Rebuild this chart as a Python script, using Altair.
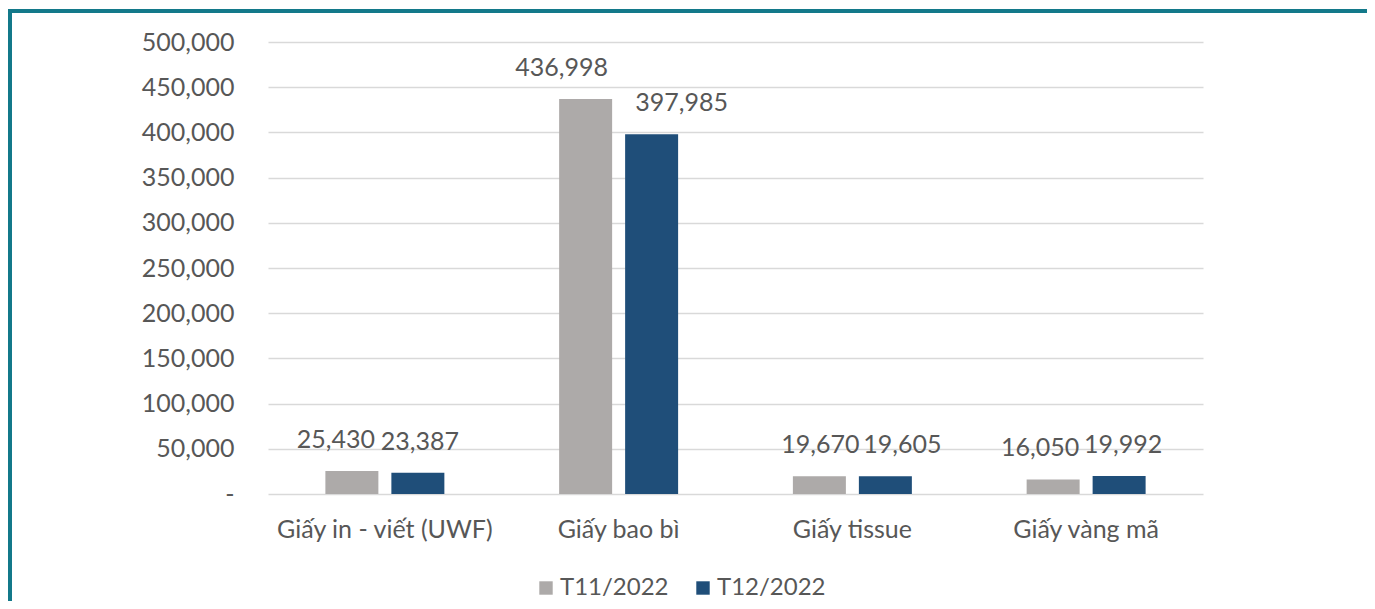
import altair as alt
import pandas as pd

categories = ["Giấy in - viết (UWF)", "Giấy bao bì", "Giấy tissue", "Giấy vàng mã"]
series = ["T11/2022", "T12/2022"]
t11_values = [25430, 436998, 19670, 16050]
t12_values = [23387, 397985, 19605, 19992]
y_ticks = [0, 50000, 100000, 150000, 200000, 250000, 300000, 350000, 400000, 450000, 500000]

# label horizontal nudges (style), in the same order as categories
t11_label_dx = [-16, -24, 1, -13]
t12_label_dx = [2, 30, 17, 4]

rows = []
for i, c in enumerate(categories):
    rows.append({"cat": c, "series": series[0], "value": t11_values[i], "dx": t11_label_dx[i]})
    rows.append({"cat": c, "series": series[1], "value": t12_values[i], "dx": t12_label_dx[i]})
df = pd.DataFrame(rows)

FONT = "Lato"
TXT = "#575757"
FS = 25
colors = ["#ADAAA9", "#1F4E79"]

x_enc = alt.X("cat:N", sort=categories, title=None,
              scale=alt.Scale(paddingInner=0.491, paddingOuter=0.2455),
              axis=alt.Axis(labelFont=FONT, labelFontSize=FS, labelColor=TXT, labelLimit=400,
                            labelPadding=23, ticks=False, domain=False, labelAngle=0))
xo_enc = alt.XOffset("series:N", sort=series,
                     scale=alt.Scale(paddingInner=0.197, paddingOuter=0))
y_enc = alt.Y("value:Q", title=None,
              scale=alt.Scale(domain=[0, 500000], nice=False),
              axis=alt.Axis(values=y_ticks, labelFont=FONT, labelFontSize=FS, labelColor=TXT,
                            labelExpr="datum.value == 0 ? '-' : format(datum.value, ',')",
                            ticks=False, domain=False, labelPadding=34,
                            gridColor="#D9D9D9", gridWidth=1.5))

base = alt.Chart(df)

bars = base.mark_bar().encode(
    x=x_enc, xOffset=xo_enc, y=y_enc,
    color=alt.Color("series:N", sort=series, title=None,
                    scale=alt.Scale(domain=series, range=colors),
                    legend=alt.Legend(orient="none", legendX=266, legendY=534,
                                      direction="horizontal", symbolType="square",
                                      symbolSize=180, symbolStrokeWidth=0,
                                      labelFont=FONT, labelFontSize=24, labelColor=TXT,
                                      labelOffset=2, columnPadding=22, padding=0)),
)

layers = [bars]
for i, r in df.iterrows():
    layers.append(
        alt.Chart(df.iloc[[i]]).mark_text(
            font=FONT, fontSize=FS, color=TXT, baseline="middle", dy=-31, dx=float(r["dx"])
        ).encode(
            x=alt.X("cat:N", sort=categories),
            xOffset=alt.XOffset("series:N", sort=series),
            y="value:Q",
            text=alt.Text("value:Q", format=","),
        )
    )

frame = alt.Chart(alt.Data(values=[{}])).mark_rect(
    filled=False, stroke="#13798A", strokeWidth=4
).encode(
    x=alt.value(-258), x2=alt.value(1101),
    y=alt.value(-31), y2=alt.value(620),
)
layers.append(frame)

chart = alt.layer(*layers).properties(
    width=935, height=452,
    autosize=alt.AutoSizeParams(type="none"),
    padding={"left": 260, "top": 34, "right": 164, "bottom": 107},
).configure_view(stroke=None)

chart.save("out.html", embed_options={"renderer": "svg", "actions": False})
